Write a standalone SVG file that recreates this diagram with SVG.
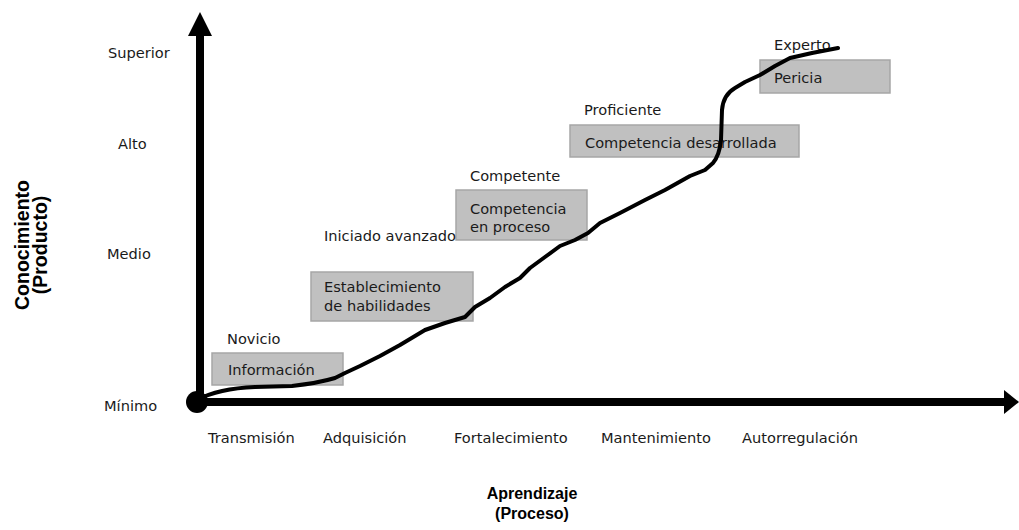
<svg xmlns="http://www.w3.org/2000/svg" width="1019" height="530" viewBox="0 0 1019 530">
<style>
.t{font-family:"DejaVu Sans","Liberation Sans",sans-serif;font-size:14.6px;fill:#1a1a1a}
.b{font-family:"Liberation Sans",Arial,sans-serif;font-size:16px;font-weight:bold;fill:#000}
.r{font-family:"Liberation Sans",Arial,sans-serif;font-size:19.5px;font-weight:bold;fill:#000}
.box{fill:#c0c0c0;stroke:#a6a6a6;stroke-width:1.5}
</style>
<rect width="1019" height="530" fill="#fff"/>
<g id="axes">
<line x1="200" y1="402" x2="200" y2="34" stroke="#000" stroke-width="8"/>
<polygon points="200,12 212,36 188,36" fill="#000"/>
<line x1="197" y1="402" x2="1005" y2="402" stroke="#000" stroke-width="8"/>
<polygon points="1019,402 1004,390 1004,414" fill="#000"/>
<circle cx="197" cy="402" r="11" fill="#000"/>
</g>
<g id="node-info"><rect class="box" x="212" y="353" width="131" height="32"/><text class="t" x="228" y="375">Información</text></g>
<g id="node-estab"><rect class="box" x="311" y="272" width="162" height="49"/><text class="t" x="324" y="292">Establecimiento</text><text class="t" x="324" y="311">de habilidades</text></g>
<g id="node-compproc"><rect class="box" x="456" y="190" width="131" height="50"/><text class="t" x="470" y="214">Competencia</text><text class="t" x="470" y="232">en proceso</text></g>
<g id="node-compdes"><rect class="box" x="570" y="125" width="229" height="32"/><text class="t" x="585" y="148">Competencia desarrollada</text></g>
<g id="node-pericia"><rect class="box" x="760" y="60" width="130" height="33"/><text class="t" x="774" y="83">Pericia</text></g>
<g id="labels">
<text class="t" x="227" y="344">Novicio</text>
<text class="t" x="324" y="241">Iniciado avanzado</text>
<text class="t" x="470" y="181">Competente</text>
<text class="t" x="584" y="115">Proficiente</text>
<text class="t" x="774" y="50">Experto</text>
<text class="t" x="108" y="58">Superior</text>
<text class="t" x="118" y="149">Alto</text>
<text class="t" x="107" y="259">Medio</text>
<text class="t" x="104" y="411">Mínimo</text>
<text class="t" x="208" y="443">Transmisión</text>
<text class="t" x="323" y="443">Adquisición</text>
<text class="t" x="454" y="443">Fortalecimiento</text>
<text class="t" x="601" y="443">Mantenimiento</text>
<text class="t" x="742" y="443">Autorregulación</text>
<text class="b" x="532" y="499" text-anchor="middle">Aprendizaje</text>
<text class="b" x="532" y="519" text-anchor="middle">(Proceso)</text>
<text class="r" transform="translate(29,245) rotate(-90)" text-anchor="middle">Conocimiento</text>
<text class="r" transform="translate(47,245) rotate(-90)" text-anchor="middle">(Producto)</text>
</g>
<g id="connectors">
<path d="M197,400 C210,393 230,388 255,387 L292,386 C310,384 325,381 335,378 L345,373 L360,366 L380,356 L400,345 L425,330 L445,323 L465,317 L475,307 L490,298 L505,287 L520,278 L530,268 L545,257 L560,246 L575,240 L588,233 L600,223 L620,213 L645,200 L665,190 L690,176 L705,170 L713,163 C718,157 720,150 721,140 L722,110 C723,98 728,92 735,88 L745,82 L760,75 L775,66 L790,58 L812,53 L838,48" fill="none" stroke="#000" stroke-width="4" stroke-linejoin="round" stroke-linecap="round"/>
</g>
</svg>
